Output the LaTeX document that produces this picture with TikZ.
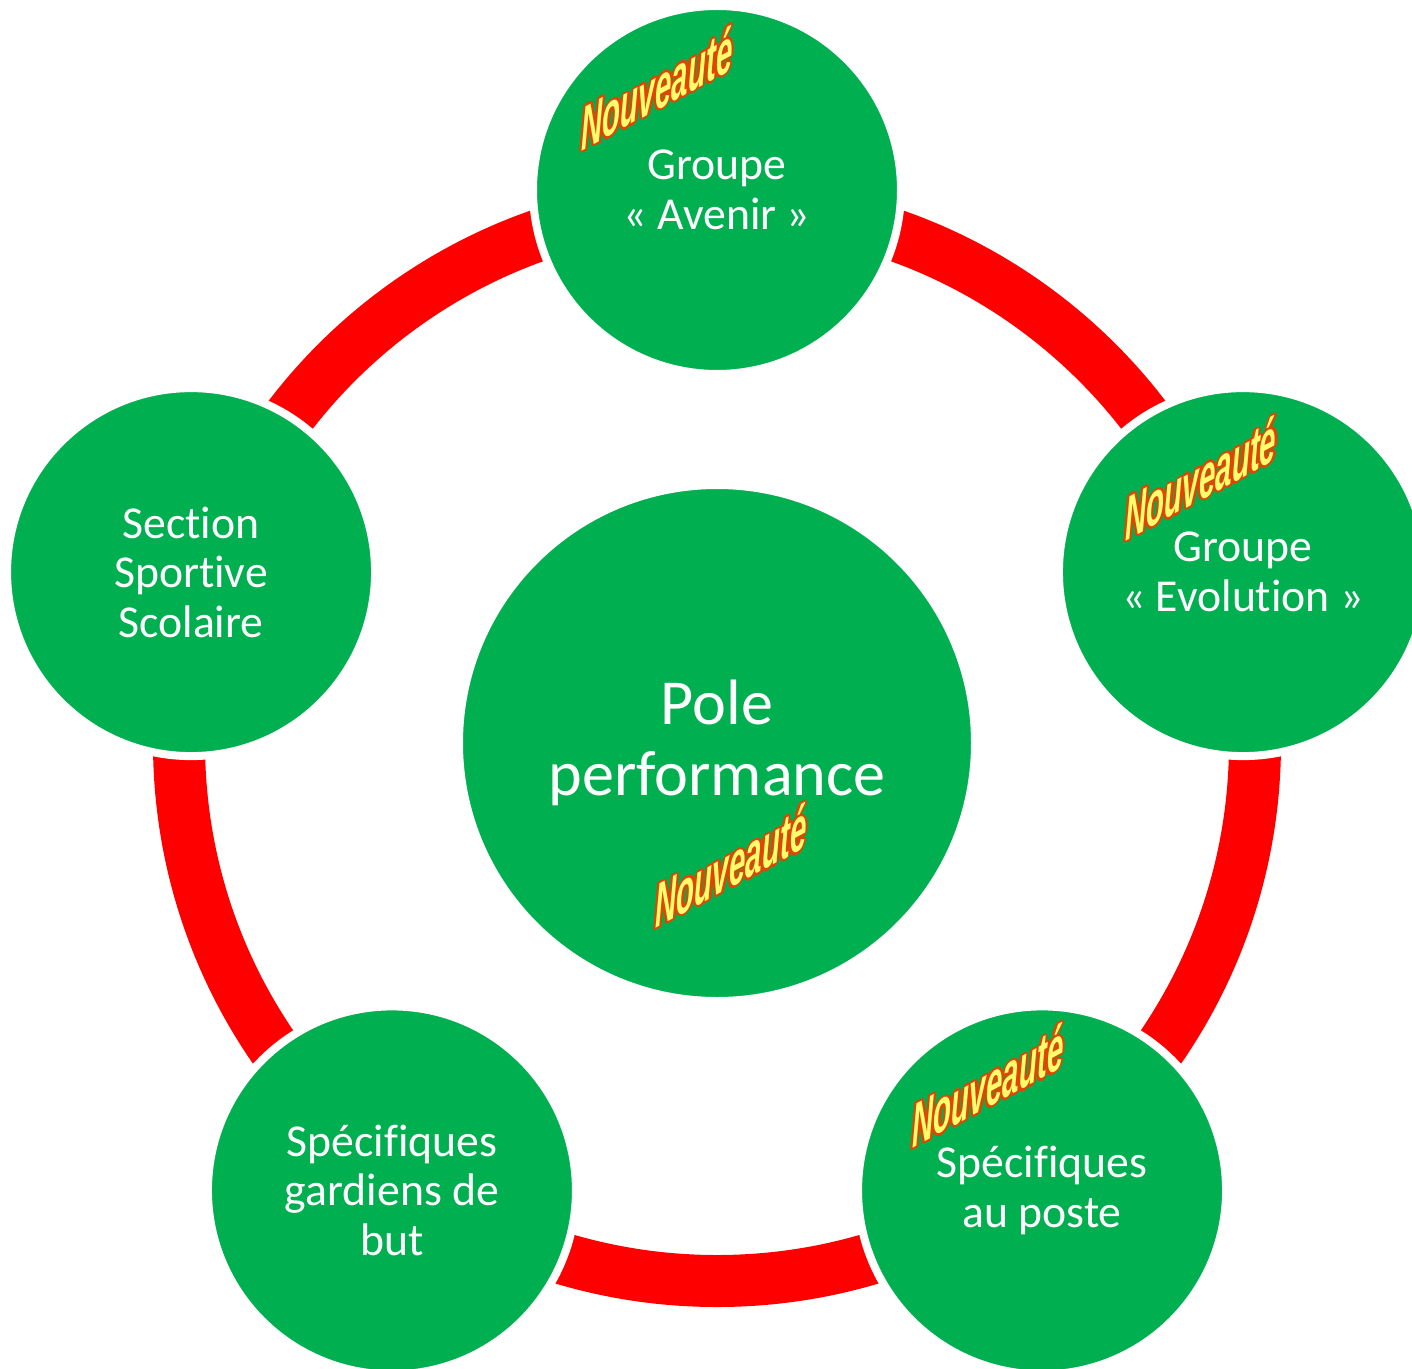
\documentclass[tikz,border=0pt]{standalone}
\usepackage{fontspec}
\setmainfont{Carlito}[Ligatures=NoCommon]
\newfontfamily\neuffont{Liberation Sans}
\usetikzlibrary{positioning}

\definecolor{polegreen}{RGB}{0,176,80}
\definecolor{ringred}{RGB}{255,0,0}
\definecolor{neufyellow}{RGB}{255,255,110}
\definecolor{neufedge}{RGB}{225,70,0}

% yellow word with a red rim
\newcommand{\neuftext}{%
  \foreach \dx/\dy in {-2.6/0,2.6/0,0/-1.3,0/1.3,-1.9/-1,1.9/-1,-1.9/1,1.9/1}{%
    \makebox[0pt][l]{\hspace{\dx pt}\raisebox{\dy pt}{\color{neufedge}Nouveaut\'e}}}%
  {\color{neufyellow}Nouveaut\'e}}

\tikzset{
  pole/.style={circle, fill=polegreen, draw=white, line width=0.16cm,
    text=white, align=center, inner sep=0pt, minimum size=7.36cm,
    font=\fontsize{26}{28.2}\selectfont},
  bigpole/.style={pole, minimum size=10.32cm,
    font=\fontsize{36.5}{40}\selectfont},
  ring/.style={draw=ringred, line width=1.04cm},
  neuf/.style={inner sep=0pt, xscale=0.48, yslant=0.26, transform shape,
    font=\neuffont\bfseries\itshape\fontsize{35}{35}\selectfont}
}

\begin{document}
\begin{tikzpicture}
    \useasboundingbox (-14.34,-12.5) rectangle (13.9,14.86);

    % Ring
    \path [ring] (0,0) circle [radius=10.76];

    % Nodes
    \node [bigpole] (centre)                {Pole\\performance};
    \node [pole]    (avenir)    at (90:11.06)   {Groupe\\« Avenir »};
    \node [pole]    (evolution) at (18:11.06)   {Groupe\\« Evolution »};
    \node [pole]    (poste)     at (-54:11.06)  {Spécifiques\\au poste};
    \node [pole]    (gardiens)  at (-126:11.06) {Spécifiques\\gardiens de\\but};
    \node [pole]    (section)   at (162:11.06)  {Section\\Sportive\\Scolaire};

    % Nouveaute labels
    \begin{scope}[shift={(avenir.center)}]
        \node [neuf] (neufavenir) at (-1.2,2.04) {\neuftext};
    \end{scope}
    \begin{scope}[shift={(evolution.center)}]
        \node [neuf] (neufevolution) at (-0.84,1.88) {\neuftext};
    \end{scope}
    \begin{scope}[shift={(poste.center)}]
        \node [neuf] (neufposte) at (-1.08,2.1) {\neuftext};
    \end{scope}
    \begin{scope}[shift={(centre.center)}]
        \node [neuf] (neufcentre) at (0.28,-2.45) {\neuftext};
    \end{scope}

\end{tikzpicture}
\end{document}
